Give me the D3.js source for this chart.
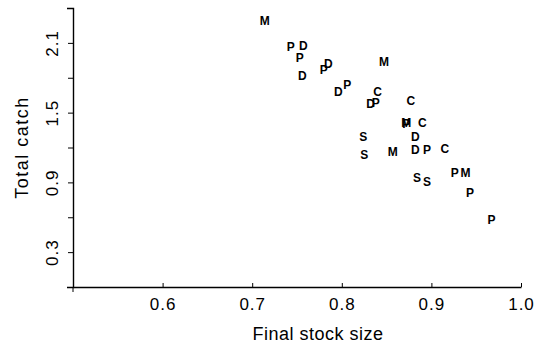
<!DOCTYPE html>
<html>
<head>
<meta charset="utf-8">
<script src="https://cdn.jsdelivr.net/npm/d3@7"></script>
<style>
  body { margin: 0; background: #fff; }
  text { font-family: "Liberation Sans", Arial, sans-serif; fill: #000; }
</style>
</head>
<body>
<script>
//data: final stock size / total catch for each strategy letter
var stockM = [0.714, 0.847, 0.872, 0.857, 0.938];
var catchM = [2.289, 1.936, 1.411, 1.161, 0.980];
var stockP = [0.743, 0.753, 0.780, 0.806, 0.838, 0.872, 0.895, 0.926, 0.943, 0.967];
var catchP = [2.065, 1.971, 1.867, 1.738, 1.583, 1.402, 1.178, 0.980, 0.808, 0.575];
var stockD = [0.757, 0.756, 0.785, 0.796, 0.832, 0.882, 0.882];
var catchD = [2.074, 1.816, 1.919, 1.678, 1.575, 1.290, 1.178];
var stockC = [0.840, 0.877, 0.890, 0.915];
var catchC = [1.678, 1.600, 1.411, 1.187];
var stockS = [0.824, 0.825, 0.884, 0.895];
var catchS = [1.290, 1.135, 0.937, 0.903];

var xTicks = [0.6, 0.7, 0.8, 0.9, 1.0];
var yTicks = [0.3, 0.6, 0.9, 1.2, 1.5, 1.8, 2.1];
var yLabels = [0.3, 0.9, 1.5, 2.1];

//build points
var points = [];
function addSeries(letter, xs, ys){
	xs.forEach(function(v, i){ points.push({letter: letter, stock: v, catch: ys[i]}); });
}
addSeries('M', stockM, catchM);
addSeries('P', stockP, catchP);
addSeries('D', stockD, catchD);
addSeries('C', stockC, catchC);
addSeries('S', stockS, catchS);

var width = 539, height = 346;
var svg = d3.select('body').append('svg')
	.attr('width', width)
	.attr('height', height);

var x = d3.scaleLinear().domain([0.5, 1.0]).range([73, 521]);
var y = d3.scaleLinear().domain([0, 2.4]).range([287, 8]);

//x axis
var xAxis = svg.append('g')
	.attr('transform', 'translate(0,' + y(0) + ')')
	.call(d3.axisBottom(x).tickValues(xTicks).tickFormat(d3.format('.1f'))
		.tickSizeInner(-4).tickSizeOuter(0).tickPadding(11));
xAxis.selectAll('text').style('font-size', '17px').style('letter-spacing', '1px');

//y axis
var yAxis = svg.append('g')
	.attr('transform', 'translate(' + x(0.5) + ',0)')
	.call(d3.axisLeft(y).tickValues(yTicks)
		.tickFormat(function(d){ return yLabels.indexOf(d) >= 0 ? d3.format('.1f')(d) : ''; })
		.tickSizeInner(5).tickSizeOuter(6));
yAxis.selectAll('.tick text')
	.attr('transform', 'rotate(-90)')
	.attr('text-anchor', 'middle')
	.attr('x', 0).attr('y', -15).attr('dy', 0)
	.style('font-size', '17px').style('letter-spacing', '1px');

//little overhang of the y axis below the x axis
svg.append('line')
	.attr('x1', x(0.5)).attr('x2', x(0.5))
	.attr('y1', y(0)).attr('y2', y(0) + 5)
	.attr('stroke', 'black');

svg.selectAll('.domain').attr('stroke-width', 1.4);
svg.selectAll('.tick line').attr('stroke-width', 1);

//axis titles
svg.append('text')
	.attr('x', 318).attr('y', 340)
	.attr('text-anchor', 'middle')
	.style('font-size', '18px')
	.style('letter-spacing', '0.5px')
	.text('Final stock size');

svg.append('text')
	.attr('transform', 'translate(28,' + ((y(0) + y(2.4)) / 2) + ') rotate(-90)')
	.attr('text-anchor', 'middle')
	.style('font-size', '18px')
	.style('letter-spacing', '1.5px')
	.text('Total catch');

//letters
svg.selectAll('text.pt').data(points)
	.enter().append('text')
	.attr('class', 'pt')
	.attr('x', function(d){ return x(d.stock); })
	.attr('y', function(d){ return y(d.catch); })
	.attr('dy', '0.36em')
	.attr('text-anchor', 'middle')
	.style('font-size', '12px')
	.style('font-weight', 'bold')
	.text(function(d){ return d.letter; });
</script>
</body>
</html>
